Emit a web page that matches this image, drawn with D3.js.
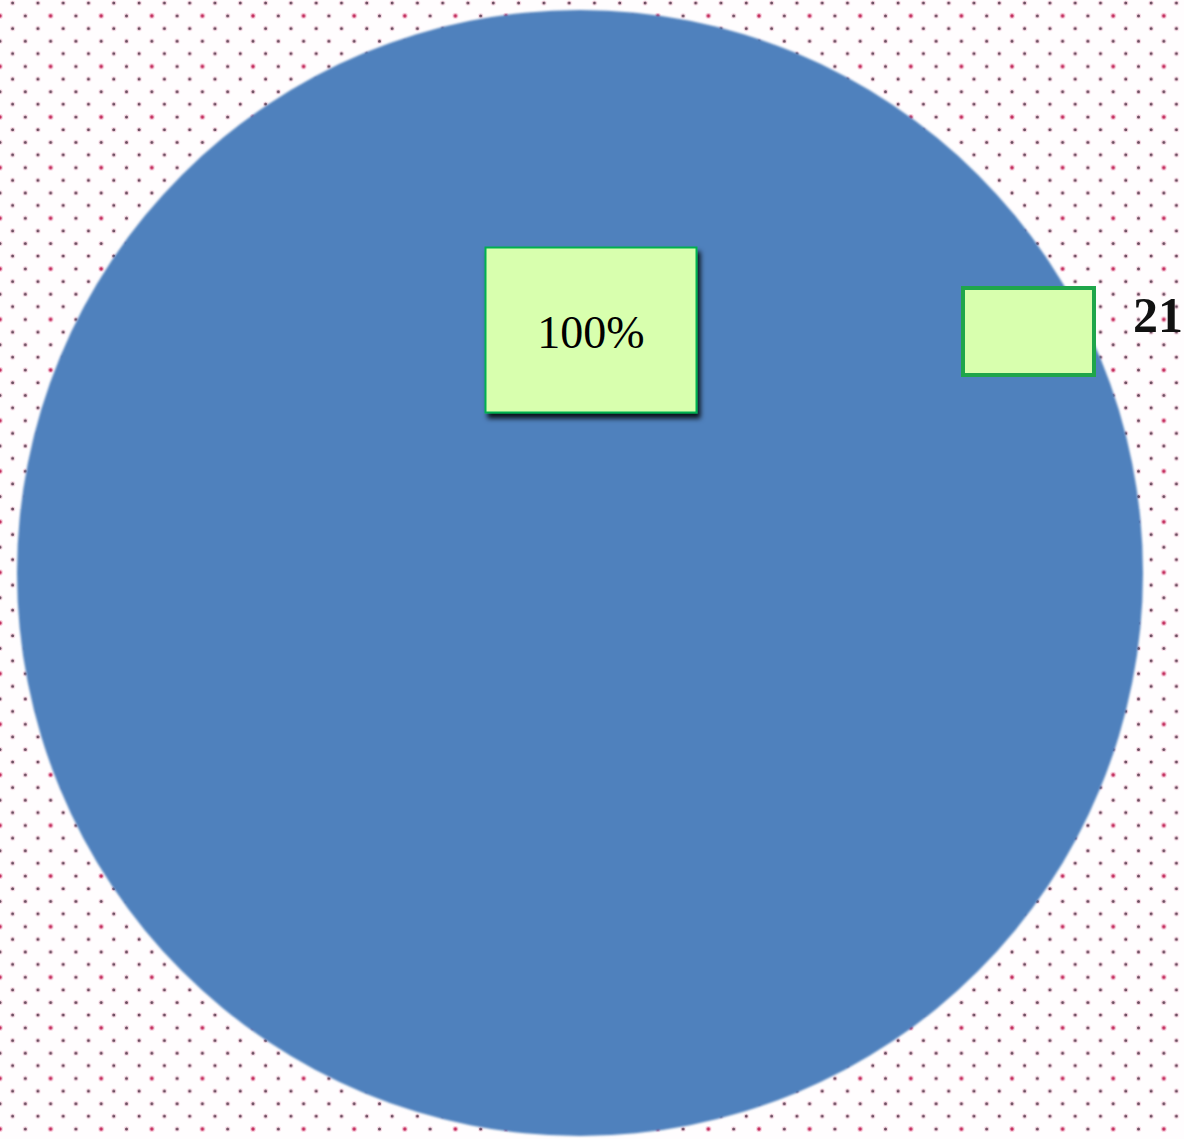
<!DOCTYPE html>
<html>
<head>
<meta charset="utf-8">
<script src="https://cdn.jsdelivr.net/npm/d3@7/dist/d3.min.js"></script>
<style>
  html, body { margin: 0; padding: 0; background: #ffffff; overflow: hidden; }
  svg { display: block; }
</style>
</head>
<body>
<svg id="chart" width="1184" height="1139"></svg>
<script>
// ---- Data ----
const categories = ["21"];
const values = [100];
const colors = ["#4F81BD"];

const W = 1184, H = 1139;
const svg = d3.select("#chart");
const defs = svg.append("defs");

// dotted background pattern
const T = 50.6;
const pat = defs.append("pattern")
  .attr("id", "dots").attr("patternUnits", "userSpaceOnUse")
  .attr("x", 0).attr("y", 0).attr("width", T).attr("height", T);
pat.append("rect").attr("width", T).attr("height", T).attr("fill", "#fffdfe");
const greyDots = [[12.6, 3], [37.9, 3], [25.3, 15.8], [12.6, 28.5], [37.9, 28.5], [0, 41.1], [T, 41.1], [25.3, 41.1]];
const pinkDots = [[0, 15.8], [T, 15.8]];
greyDots.forEach(([x, y]) => {
  pat.append("circle").attr("cx", x).attr("cy", y).attr("r", 2.6).attr("fill", "#f7d8e4");
  pat.append("circle").attr("cx", x).attr("cy", y).attr("r", 1.5).attr("fill", "#6a4c5e");
});
pinkDots.forEach(([x, y]) => {
  pat.append("circle").attr("cx", x).attr("cy", y).attr("r", 2.8).attr("fill", "#f6c4d6");
  pat.append("circle").attr("cx", x).attr("cy", y).attr("r", 1.7).attr("fill", "#c2305e");
});
svg.append("rect").attr("width", W).attr("height", H).attr("fill", "url(#dots)");

// shadow filter
const f = defs.append("filter").attr("id", "shadow")
  .attr("x", "-10%").attr("y", "-10%").attr("width", "130%").attr("height", "130%");
f.append("feDropShadow").attr("dx", 3).attr("dy", 5).attr("stdDeviation", 2.5)
  .attr("flood-color", "#000").attr("flood-opacity", 0.85);

const soft = defs.append("filter").attr("id", "soft");
soft.append("feGaussianBlur").attr("stdDeviation", 0.8);

// ---- Pie ----
const cx = 580, cy = 573, R = 563;
const pie = d3.pie().sort(null).value(d => d)(values);
const arc = d3.arc().innerRadius(0).outerRadius(R);
const total = d3.sum(values);

const g = svg.append("g").attr("transform", `translate(${cx},${cy})`);
g.selectAll("path.slice").data(pie).join("path")
  .attr("class", "slice")
  .attr("d", arc)
  .attr("fill", (d, i) => colors[i])
  .attr("filter", "url(#soft)");

// data label box
const fmt = d3.format(".0%");
const labels = pie.map(d => fmt(d.value / total));
const box = svg.append("g");
box.append("rect")
  .attr("x", 485.5).attr("y", 247.5).attr("width", 211).attr("height", 165)
  .attr("fill", "#d8ffae").attr("stroke", "#00b050").attr("stroke-width", 2)
  .attr("filter", "url(#shadow)");
box.append("text")
  .attr("x", 591).attr("y", 348)
  .attr("text-anchor", "middle")
  .attr("font-family", "'Liberation Serif', 'Times New Roman', serif")
  .attr("font-size", 46)
  .attr("fill", "#000")
  .text(labels[0]);

// legend
const leg = svg.append("g");
categories.forEach((c, i) => {
  leg.append("rect")
    .attr("x", 963).attr("y", 288 + i * 60).attr("width", 131).attr("height", 87)
    .attr("fill", "#d8ffae").attr("stroke", "#1fa64a").attr("stroke-width", 4);
  leg.append("text")
    .attr("x", 1133).attr("y", 332 + i * 60)
    .attr("font-family", "'Liberation Serif', 'Times New Roman', serif")
    .attr("font-weight", "bold")
    .attr("font-size", 50)
    .attr("fill", "#111")
    .text(c);
});
</script>
</body>
</html>
